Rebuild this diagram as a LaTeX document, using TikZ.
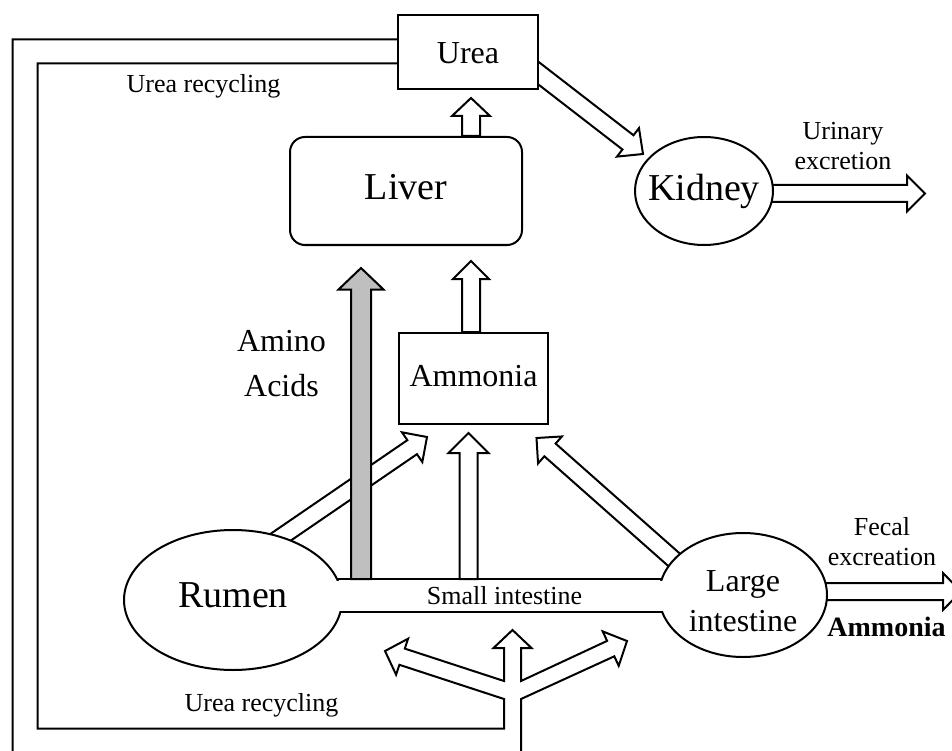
\documentclass[tikz,border=0pt]{standalone}
\usepackage{fontspec}
\setmainfont{Liberation Serif}
\usetikzlibrary{calc,backgrounds,shapes.geometric}
\setlength{\tabcolsep}{0pt}
\newcommand\fs[2]{\fontsize{#1}{#2}\selectfont}
% hollow block arrow: [opts]{start}{tip}{half shaft}{half head}{head length}
\newcommand\harrow[6][]{%
  \coordinate (hA) at #2;
  \coordinate (hB) at #3;
  \coordinate (hH) at ($(hB)!#6!(hA)$);
  \draw[hollow,#1] ($(hA)!#4!90:(hB)$) -- ($(hH)!#4!-90:(hA)$) -- ($(hH)!#5!-90:(hA)$) -- (hB) -- ($(hH)!#5!90:(hA)$) -- ($(hH)!#4!90:(hA)$) -- ($(hA)!#4!-90:(hB)$) -- cycle;
}
\tikzset{
  loopline/.style={line width=2pt, line join=miter},
  hollow/.style={draw, line width=2pt, fill=white, line join=miter},
  box/.style={draw, line width=2pt, fill=white, inner sep=0pt},
  oval/.style={ellipse, draw, line width=2pt, fill=white, inner xsep=-30pt, inner ysep=-20pt},
  lbl/.style={inner sep=0pt, anchor=base},
}
\begin{document}
\begin{tikzpicture}[x=1pt,y=-1pt]
\useasboundingbox (0,0) rectangle (952,751);

% shapes
\node[box, minimum width=140pt, minimum height=74pt, text height=24pt, text depth=1.4pt, font=\fs{32}{38}] (urea) at (468,52) {Urea};
\node[box, rounded corners=15pt, minimum width=232pt, minimum height=108pt, text height=24pt, text depth=6pt, font=\fs{38}{44}] (liver) at (406,191) {Liver};
\node[box, minimum width=149pt, minimum height=91pt, text height=22pt, text depth=5.6pt, font=\fs{32}{38}] (ammonia) at (473.5,378.5) {Ammonia};
\node[oval, minimum width=138pt, minimum height=108pt, text height=26pt, text depth=6pt, font=\fs{38}{44}] (kidney) at (704,191) {Kidney};
\node[oval, minimum width=218pt, minimum height=140pt, text height=25pt, text depth=9.6pt, font=\fs{38}{44}] (rumen) at (233,600) {Rumen};
\node[oval, minimum width=168pt, minimum height=124pt, text height=20pt, text depth=26.6pt, font=\fs{32}{40}] (li) at (743,595) {\begin{tabular}[t]{c}Large\\intestine\end{tabular}};

% small intestine tube
\fill[white] (328,580.5) rectangle (346,610.5);
\fill[white] (654,580.5) rectangle (668,610.5);
\draw[loopline] (337,579) coordinate (siTL) -- (661.8,579) coordinate (siTR);
\draw[loopline] (340.4,612) coordinate (siBL) -- (662.2,612) coordinate (siBR);

% labels
\node[lbl, font=\fs{26}{30}] (urecTop) at (203.5,92.7) {Urea recycling};
\node[lbl, font=\fs{26}{30}] (urecBot) at (261.5,711.7) {Urea recycling};
\node[lbl, font=\fs{26}{30}] (si) at (504.5,604) {Small intestine};
\node[lbl, font=\fs{26}{30}] (urinary) at (843,140) {\begin{tabular}[t]{c}Urinary\\excretion\end{tabular}};
\node[lbl, font=\fs{32}{45}] (amino) at (281.5,351.7) {\begin{tabular}[t]{c}Amino\\Acids\end{tabular}};
\node[lbl, font=\fs{26}{30}] (fecal) at (882,535) {\begin{tabular}[t]{c}Fecal\\excreation\end{tabular}};
\node[lbl, font=\bfseries\fs{28}{34}] (ammoniaOut) at (886.5,636) {Ammonia};

\begin{pgfonlayer}{background}
\begin{scope}
\clip (0,0) rectangle (952,751);
% urea recycling loop with branching arrows
\draw[loopline] ($(urea.west)+(0,11.3)$) -| (37.5,728.5) -- (504,728.5) -- (504,699)
  -- (399.4,664.8) -- (396.1,674.7) -- (385,651) -- (408.1,638.7) -- (404.8,648.6)
  -- (504,681) -- (504,648) -- (493.5,648) -- (512.5,630) -- (531.5,648) -- (521,648)
  -- (521,681) -- (607.1,640.9) -- (602.7,631.4) -- (627,641) -- (618.7,665.8) -- (614.3,656.3)
  -- (521,699) -- (521,790) -| (12.7,39.5) -- ($(urea.west)+(0,-12.5)$);
% block arrows
\harrow{($(urea.center)+(56,10)$)}{($(kidney.center)+(-61,-37)$)}{9pt}{18pt}{19pt}
\harrow{($(kidney.center)+(40,2.5)$)}{($(kidney.center)+(221,2.5)$)}{8.5pt}{18pt}{18pt}
\harrow{($(rumen.center)+(29,-50)$)}{($(ammonia.center)+(-46.5,58.5)$)}{8.5pt}{18pt}{18pt}
\harrow{($(li.center)+(-64.2,-31)$)}{($(ammonia.center)+(63,59.5)$)}{8.5pt}{18pt}{18pt}
\harrow{($(li.center)+(57,-3.5)$)}{($(li.center)+(218,-3.5)$)}{8.5pt}{18.5pt}{18pt}
\harrow[fill=gray!50]{(361,579)}{($(liver.south)+(-45,22)$)}{10pt}{22.5pt}{21.5pt}
\harrow{(468.5,579)}{($(ammonia.south)+(-5,8)$)}{9pt}{20pt}{20pt}
\harrow{($(ammonia.north)+(-2.5,0)$)}{($(liver.south)+(65,15)$)}{9pt}{18pt}{18pt}
\harrow{($(liver.north)+(65,0)$)}{($(urea.south)+(3,8)$)}{9pt}{19pt}{18pt}
\end{scope}
\end{pgfonlayer}
\end{tikzpicture}
\end{document}
